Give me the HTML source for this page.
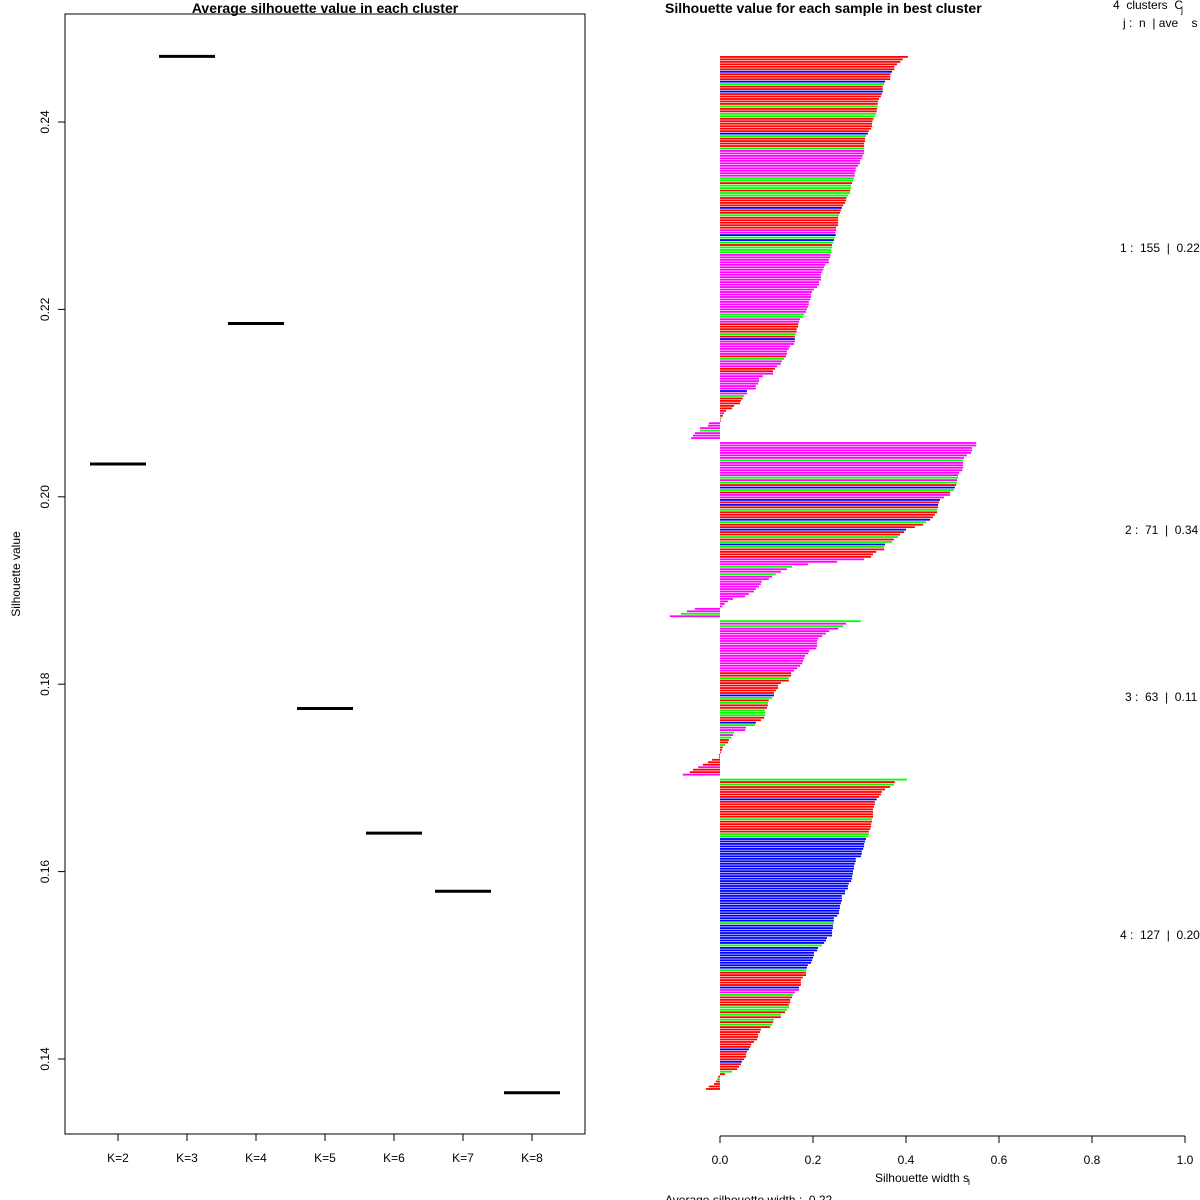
<!DOCTYPE html>
<html><head><meta charset="utf-8">
<style>
html,body{margin:0;padding:0;background:#fff;}
svg{display:block;font-family:"Liberation Sans",Arial,sans-serif;}
text{white-space:pre;}
</style></head>
<body>
<svg id="chart" width="1200" height="1200" viewBox="0 0 1200 1200" xmlns="http://www.w3.org/2000/svg" xml:space="preserve">
<g id="left"></g>
<g id="right"></g>
</svg>
<script>
// ---- left panel data ----
const kLabels = ["K=2","K=3","K=4","K=5","K=6","K=7","K=8"];
const avgSil = [0.2035,0.2470,0.2185,0.1774,0.1641,0.1579,0.1364];
const yTicks = [0.14,0.16,0.18,0.20,0.22,0.24];
const yTickLabels = ["0.14","0.16","0.18","0.20","0.22","0.24"];

// ---- right panel data ----
const c1 = [0.404,0.393,0.388,0.381,0.375,0.375,0.370,0.367,0.366,0.366,0.355,0.353,0.350,0.350,0.350,0.348,0.346,0.342,0.340,0.339,0.339,0.338,0.337,0.336,0.333,0.330,0.328,0.327,0.327,0.325,0.320,0.318,0.314,0.312,0.312,0.310,0.310,0.310,0.310,0.310,0.307,0.305,0.301,0.301,0.297,0.292,0.292,0.290,0.290,0.288,0.286,0.284,0.282,0.282,0.280,0.280,0.275,0.272,0.271,0.269,0.265,0.262,0.260,0.258,0.256,0.254,0.254,0.254,0.254,0.250,0.250,0.248,
0.249,0.247,0.245,0.244,0.241,0.241,0.239,0.239,0.237,0.237,0.234,0.234,0.226,0.224,0.222,0.219,0.217,0.217,0.217,0.213,0.213,0.209,0.202,0.198,0.196,0.196,0.194,0.191,0.191,0.189,0.187,0.185,0.181,0.178,0.172,0.170,0.168,0.168,0.165,0.165,0.163,0.161,0.161,0.161,0.159,0.151,0.148,0.144,0.144,0.142,0.138,0.133,0.131,0.123,0.118,0.114,0.114,0.092,0.084,0.084,0.082,0.077,0.077,0.058,0.058,0.052,0.049,0.045,0.043,0.030,0.026,0.013,0.009,0.006,0.003,0.002,
-0.024,-0.026,-0.043,-0.043,-0.054,-0.058,-0.062];
const c1col = "rrrrrrbrrrbgrrbrrrrrgrrggrrrrrrbgrrrrgmmmmmmmmmmmggrggrggrrrrbrrgrrrrrmmbg"+"bgrgggmmmmmmmmmmmmmmmmmmmmmmmmggmmrrrrgrbmmmmmmrgmmmrrmmmmmmmbmgrrrrrrmrgmmm"+"mgmmmmm";
const c2 = [0.551,0.551,0.542,0.542,0.540,0.531,0.525,0.523,0.523,0.523,0.523,0.521,0.514,0.512,0.512,0.510,0.510,0.508,0.505,0.503,0.495,0.495,0.482,0.473,0.471,0.469,0.469,0.467,0.467,0.462,0.458,0.452,0.443,0.437,0.419,0.400,0.396,0.387,0.383,0.374,0.370,0.355,0.353,0.353,0.336,0.329,0.325,0.310,0.252,0.189,0.155,0.144,0.131,0.120,0.112,0.105,0.090,0.088,0.084,0.077,0.073,0.062,0.054,0.028,0.017,0.010,0.005,-0.054,-0.071,-0.084,-0.108];
const c2col = "mmmmmmmgmmmmmmgmgrbgrmmbrbrgrrrbgrrbrrgrgbgrrrrmmmgmmgmmmmmmmmmmmmmm"+"mgmm";
const c3 = [0.303,0.271,0.265,0.254,0.235,0.228,0.220,0.211,0.209,0.209,0.209,0.207,0.192,0.190,0.183,0.181,0.179,0.177,0.172,0.166,0.159,0.153,0.153,0.148,0.148,0.131,0.125,0.125,0.120,0.116,0.116,0.112,0.105,0.103,0.103,0.101,0.097,0.097,0.097,0.095,0.088,0.077,0.075,0.056,0.054,0.030,0.028,0.024,0.019,0.017,0.011,0.006,0.004,0.002,-0.002,-0.002,-0.017,-0.026,-0.037,-0.047,-0.058,-0.065,-0.080];
const c3col = "gmgmmmmmmmmmmmmmmmmmmrrgrrrrrrbgrgrrgggrrbgmmgmgrrgrr"+"rrrrrrmrr";
const c4 = [0.402,0.376,0.374,0.366,0.355,0.348,0.346,0.342,0.337,0.333,0.333,0.331,0.329,0.329,0.329,0.329,0.327,0.327,0.325,0.325,0.323,0.320,0.320,0.318,0.314,0.312,0.310,0.310,0.308,0.305,0.305,0.303,0.292,0.292,0.290,0.288,0.288,0.286,0.286,0.284,0.284,0.282,0.277,0.275,0.275,0.269,0.269,0.262,0.262,0.262,0.260,0.258,0.258,0.256,0.256,0.252,0.245,0.245,0.245,0.243,0.243,0.241,0.241,0.241,0.230,0.228,0.224,0.219,
0.211,0.209,0.202,0.202,0.200,0.198,0.196,0.189,0.187,0.185,0.185,0.185,0.178,0.174,0.174,0.174,0.170,0.170,0.161,0.157,0.155,0.151,0.151,0.148,0.148,0.144,0.140,0.131,0.131,0.116,0.114,0.112,0.108,0.088,0.086,0.082,0.082,0.080,0.073,0.067,0.065,0.062,0.058,0.056,0.056,0.052,0.047,0.045,0.041,0.037,0.026,0.011,-0.004,-0.006,-0.009,-0.013,-0.024,-0.030];
const c4col = "grgrrrrrbrrrrrrrgrrrrrggbbbbbbbbbbbbbbbbbbbbbbbbbbbbbbbbbbgbbbbbbbbgbb"+"bbbbbbbgrrrrrrbmmgrrrrggrgrgrgrrrrrrrrrbrrrrbrrrgrrgrrrrrr"+"rrrrrg";
const clusterLabels = ["1 :  155  |  0.22","2 :  71  |  0.34","3 :  63  |  0.11","4 :  127  |  0.20"];
const xTicks = [0,0.2,0.4,0.6,0.8,1.0];
const xTickLabels = ["0.0","0.2","0.4","0.6","0.8","1.0"];

const NS="http://www.w3.org/2000/svg";
function mk(parent,tag,attrs,text){const e=document.createElementNS(NS,tag);for(const k in attrs)e.setAttribute(k,attrs[k]);if(text!==undefined)e.textContent=text;parent.appendChild(e);return e;}

// ---------- LEFT ----------
const L=document.getElementById('left');
const yL=v=>122+(0.24-v)*9370;
const xL=i=>118+i*69;
let e;
e=mk(L,'rect',{x:65,y:14,width:520,height:1120,fill:'none',stroke:'#000','stroke-width':1});


e=mk(L,'text',{x:325,y:13,'text-anchor':'middle','font-size':14,'font-weight':'bold'},'Average silhouette value in each cluster');


yTicks.forEach((t,i)=>{
  const y=yL(t);
  e=mk(L,'line',{x1:58,x2:65,y1:y,y2:y,stroke:'#000'});
  
  
  e=mk(L,'text',{x:0,y:0,transform:`translate(49,${y}) rotate(-90)`,'text-anchor':'middle','font-size':12},yTickLabels[i]);
  
  
});
e=mk(L,'text',{x:0,y:0,transform:'translate(20,574) rotate(-90)','text-anchor':'middle','font-size':12},'Silhouette value');


kLabels.forEach((k,i)=>{
  const x=xL(i);
  e=mk(L,'line',{x1:x,x2:x,y1:1134,y2:1141,stroke:'#000'});
  
  
  e=mk(L,'text',{x:x,y:1162,'text-anchor':'middle','font-size':12},k);
  
  
  e=mk(L,'line',{x1:x-28,x2:x+28,y1:yL(avgSil[i]),y2:yL(avgSil[i]),stroke:'#000','stroke-width':3});
  
  
});

// ---------- RIGHT ----------
const R=document.getElementById('right');
const x0=720, xs=465;
const xR=v=>x0+v*xs;
const colors={r:'#ff0000',g:'#00ff00',b:'#0000ff',m:'#ff00ff'};
const pitch=2.475;
const clusters=[[c1,c1col],[c2,c2col],[c3,c3col],[c4,c4col]];
let idx=0;
const labelY=[252,534,701,939], labelX=[1120,1125,1125,1120];
clusters.forEach(([vals,cols],ci)=>{
  vals.forEach((v,j)=>{
    const y=56+idx*pitch;
    const xa=Math.min(xR(0),xR(v)), w=Math.abs(xR(v)-xR(0));
    const el=mk(R,'rect',{x:xa,y:y,width:Math.max(w,0.5),height:1.8,fill:colors[cols[j]]||colors.m});
    
    
    idx++;
  });
  idx++;
  e=mk(R,'text',{x:labelX[ci],y:labelY[ci],'font-size':12},clusterLabels[ci]);
  
  
});
e=mk(R,'text',{x:665,y:13,'font-size':14,'font-weight':'bold'},'Silhouette value for each sample in best cluster');


e=mk(R,'text',{x:1113,y:9,'font-size':12},'4  clusters  C');


e=mk(R,'text',{x:1181,y:13,'font-size':9},'j');


e=mk(R,'text',{x:1123,y:27,'font-size':12},'j :  n  | ave    s');


e=mk(R,'line',{x1:720,x2:1185,y1:1136,y2:1136,stroke:'#000'});


xTicks.forEach((t,i)=>{
  const x=xR(t);
  e=mk(R,'line',{x1:x,x2:x,y1:1136,y2:1143,stroke:'#000'});
  
  
  e=mk(R,'text',{x:x,y:1164,'text-anchor':'middle','font-size':12},xTickLabels[i]);
  
  
});
e=mk(R,'text',{x:922,y:1182,'text-anchor':'middle','font-size':12},'Silhouette width s');


e=mk(R,'text',{x:968,y:1185,'font-size':9},'i');


e=mk(R,'text',{x:665,y:1204,'font-size':12},'Average silhouette width :  0.22');


</script>
</body></html>
